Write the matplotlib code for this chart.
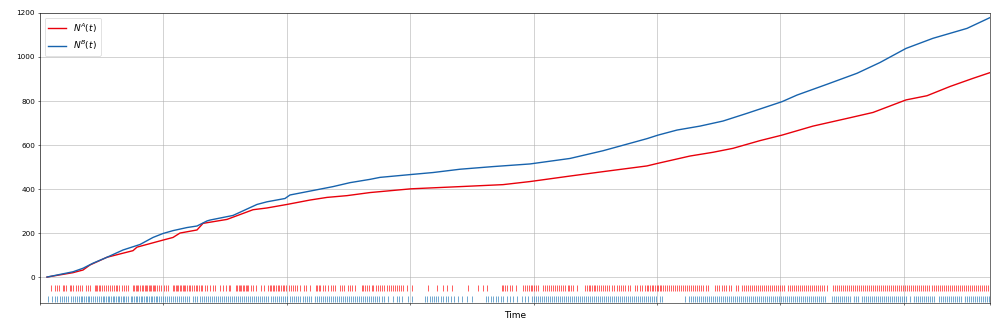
import numpy as np
import matplotlib
matplotlib.use("Agg")
import matplotlib.pyplot as plt

# ---- data (time axis in arbitrary units, end of observation = 950) ----
T_END = 950
# cumulative counts read at knot times
tA = [7, 33, 43, 50, 67, 93, 97, 123, 133, 140, 157, 160, 163, 187, 213, 227, 247, 270, 287, 307,
      330, 371, 420, 463, 490, 530, 563, 607, 618, 650, 673, 693, 720, 742, 773, 810, 833, 866, 887, 910,
      933, 950]
nA = [0, 20, 32, 55, 90, 120, 136, 168, 180, 200, 214, 229, 244, 262, 306, 314, 330, 350, 362, 370,
      384, 401, 411, 420, 434, 459, 479, 505, 517, 550, 567, 585, 620, 645, 686, 724, 748, 805, 824, 866,
      903, 929]
tB = [7, 33, 43, 53, 67, 83, 100, 113, 123, 133, 147, 157, 167, 170, 193, 217, 227, 245, 250, 267,
      293, 310, 330, 340, 371, 393, 420, 453, 490, 530, 563, 607, 618, 637, 660, 683, 707, 742, 757, 787,
      817, 840, 866, 893, 927, 950]
nB = [0, 24, 40, 63, 90, 123, 148, 180, 198, 211, 225, 232, 255, 259, 280, 330, 342, 357, 373, 388,
      411, 429, 444, 453, 466, 475, 490, 502, 514, 539, 574, 629, 645, 668, 686, 709, 744, 797, 827, 876,
      926, 975, 1039, 1085, 1130, 1179]

# event times (raster)
eventsA = [11, 15, 17, 19, 23, 24, 26, 30, 31, 33, 36, 38, 40, 42, 46, 48, 50, 55, 56, 57, 59, 60, 62, 64, 66,
           68, 70, 72, 74, 76, 77, 79, 82, 84, 86, 88, 93, 94, 96, 97, 98, 100, 102, 103, 105, 106, 107, 109,
           110, 111, 113, 114, 115, 117, 119, 121, 124, 126, 128, 133, 134, 136, 137, 138, 140, 141, 143, 144,
           145, 147, 149, 150, 152, 154, 156, 157, 159, 161, 162, 165, 167, 170, 173, 175, 180, 183, 186, 189,
           190, 196, 197, 199, 200, 201, 203, 204, 206, 207, 208, 211, 213, 216, 221, 224, 228, 230, 231, 233,
           234, 236, 238, 239, 241, 243, 244, 246, 249, 251, 253, 255, 257, 260, 264, 266, 270, 276, 277, 279,
           280, 283, 285, 288,
           291, 293, 295, 300, 302, 304, 308, 310, 312, 315, 322, 323, 325, 327, 329, 332, 333, 336, 338, 340,
           342, 344, 347, 349, 351, 353, 355, 357, 359, 361, 363, 367, 372, 388, 397, 403, 407, 412, 428, 438,
           443, 447, 462, 463, 465, 467, 470, 472, 476, 483, 485, 487, 489, 491, 492, 494, 496, 498, 503, 505,
           507, 509, 511, 513, 515, 517, 519, 521, 523, 525, 528, 529, 531, 533, 537, 545, 547, 549, 550, 552,
           554, 555, 557, 559, 561, 563, 565, 567, 569, 572, 574, 577, 579, 581, 583, 585, 588, 590, 595, 597,
           600, 602, 605, 607, 608, 610, 612, 613, 615, 617, 618, 620,
           621, 623, 625, 627, 629, 631, 633, 635, 637, 639, 641, 643, 645, 647, 649, 651, 653, 655, 657, 659,
           661, 663, 666, 668, 675, 677, 679, 682, 684, 686, 689, 691, 696, 698, 702, 704, 706, 708, 710, 712,
           714, 716, 718, 720, 722, 724, 726, 728, 730, 732, 734, 736, 738, 740, 742, 744, 748, 750, 752, 754,
           756, 758, 760, 762, 764, 766, 768, 770, 772, 774, 776, 778, 780, 782, 784, 787, 793, 795, 797, 799,
           801, 803, 805, 807, 809, 811, 813, 815, 817, 819, 821, 823, 825, 827, 829, 831, 833, 835, 837, 839,
           841, 843, 845, 847, 849, 851, 853, 855, 857, 859, 861, 863, 865, 867, 869, 871, 873, 875, 877, 879,
           881, 883, 885, 887, 889, 892, 894, 896, 898, 900, 902, 904, 906, 908, 910, 912, 914, 916, 918, 920,
           922, 924, 926, 928, 930, 932, 934, 936, 938, 940, 942, 944, 946, 948, 950]
eventsB = [8, 12, 15, 17, 20, 22, 24, 26, 28, 31, 33, 35, 37, 39, 41, 42, 44, 46, 48, 49, 51, 53, 55, 57, 59,
           61, 63, 64, 66, 68, 69, 71, 73, 74, 76, 78, 79, 81, 83, 84, 86, 88, 91, 92, 94, 96, 97, 99, 101, 102,
           104, 106, 107, 109, 111, 112, 114, 116, 117, 119, 121, 123, 125, 127, 129, 131, 133, 135, 137, 139,
           141, 143, 145, 147, 149, 153, 155, 157, 160, 162, 164, 166, 168, 170, 172, 174, 176, 178, 180, 182,
           184, 186, 188, 190, 192, 194, 196, 198, 200, 202, 204, 206, 208, 210, 212, 214, 216, 218, 220, 222,
           224, 226, 228, 231, 233, 235, 237, 239, 241, 243, 245, 247, 250, 252, 254, 256, 258, 260, 263, 265,
           267, 269, 271, 275, 277, 279, 281, 283, 285, 287, 289,
           291, 293, 295, 297, 299, 301, 303, 305, 307, 309, 311, 313, 315, 317, 319, 321, 323, 325, 327, 329,
           331, 333, 335, 337, 339, 342, 344, 348, 353, 357, 359, 362, 368, 372, 385, 387, 390, 392, 394, 396,
           398, 401, 403, 406, 408, 411, 414, 418, 422, 427, 432, 446, 448, 451, 453, 456, 458, 461, 463, 467,
           470, 473, 477, 482, 485, 488, 492, 494, 496, 498, 500, 502, 504, 506, 508, 510, 512, 514, 516, 518,
           520, 522, 524, 526, 528, 530, 532, 534, 536, 538, 540, 542, 544, 546, 548, 550, 552, 554, 556, 558,
           560, 562, 564, 566, 568, 570, 572, 574, 576, 578, 580, 582, 584, 586, 588, 590, 592, 594, 596, 598,
           600, 602, 604, 606, 608, 610, 612, 614, 616, 620,
           622, 645, 649, 651, 653, 655, 657, 659, 661, 663, 665, 667, 669, 671, 673, 675, 677, 679, 681, 683,
           685, 687, 689, 691, 693, 695, 697, 699, 701, 703, 705, 707, 709, 711, 713, 715, 717, 719, 721, 723,
           725, 727, 729, 731, 733, 735, 737, 739, 741, 743, 745, 747, 749, 751, 753, 755, 757, 759, 761, 763,
           765, 767, 769, 771, 773, 775, 777, 779, 781, 783, 785, 792, 794, 796, 798, 800, 802, 804, 806, 808,
           810, 814, 816, 818, 822, 824, 826, 828, 830, 832, 834, 836, 838, 840, 842, 844, 846, 848, 850, 852,
           854, 856, 858, 860, 862, 864, 866, 870, 874, 876, 878, 880, 882, 884, 886, 888, 890, 892, 894, 899,
           901, 903, 905, 907, 909, 911, 913, 915, 917, 919, 921, 925, 927, 929, 931, 933, 935, 937, 939, 941,
           943, 945, 947, 949]

labels = [r"$N^A(t)$", r"$N^B(t)$"]
colA, colB = "#e8000b", "#1763ad"

fig = plt.figure(figsize=(20, 6.66), dpi=50)
ax = fig.add_axes([0.040, 0.090, 0.950, 0.871])

ax.plot(tA, nA, color=colA, lw=2.0, label=labels[0])
ax.plot(tB, nB, color=colB, lw=2.0, label=labels[1])
ax.eventplot([eventsA, eventsB], lineoffsets=[-50, -100], linelengths=24,
             colors=["red", "#1f77b4"], linewidths=0.9)

ax.set_xlim(0, T_END)
ax.set_ylim(-118, 1200)
step = T_END / 7.7
ax.set_xticks(list(np.arange(0, T_END, step)) + [T_END])
ax.set_xticklabels([])
ax.set_yticks([0, 200, 400, 600, 800, 1000, 1200])
ax.tick_params(axis="y", labelsize=10.5)
ax.grid(True)
ax.set_xlabel("Time", fontsize=13)
ax.legend(loc="upper left", fontsize=13)

fig.savefig("out.png", dpi=50)
